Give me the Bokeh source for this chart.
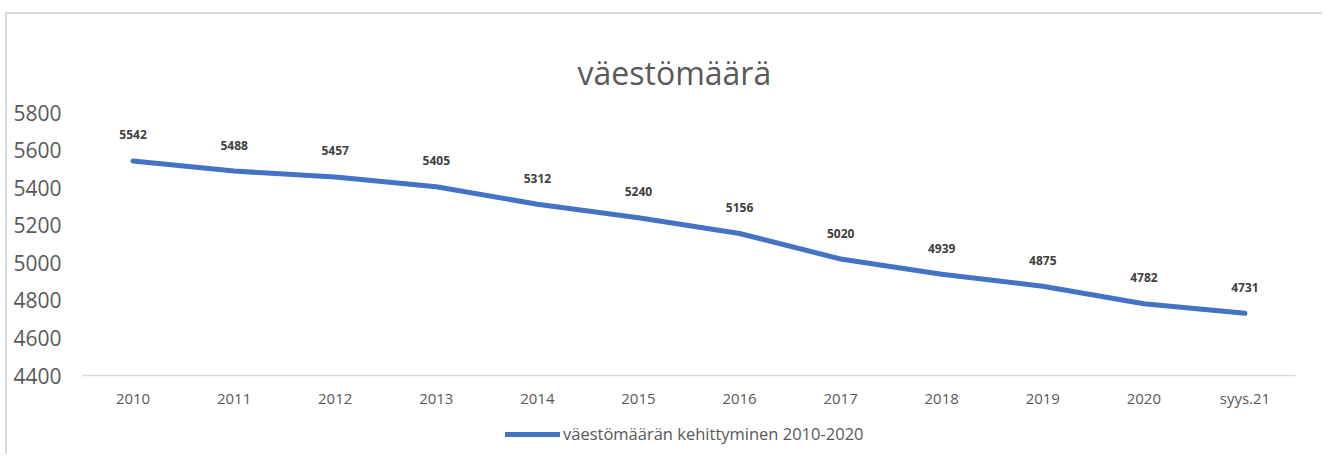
from bokeh.plotting import figure
from bokeh.models import Range1d, Legend, LegendItem, ColumnDataSource
from bokeh.layouts import column
from bokeh.core.properties import value
from bokeh.embed import file_html
from bokeh.resources import INLINE

categories = ["2010", "2011", "2012", "2013", "2014", "2015", "2016", "2017", "2018", "2019", "2020", "syys.21"]
population = [5542, 5488, 5457, 5405, 5312, 5240, 5156, 5020, 4939, 4875, 4782, 4731]
y_ticks = [4400, 4600, 4800, 5000, 5200, 5400, 5600, 5800]
title_text = "väestömäärä"
series_name = "väestömäärän kehittyminen 2010-2020"

FONT = "Open Sans"
GREY = "#595959"
BLUE = "#4472C4"

src = ColumnDataSource(dict(x=categories, y=population, lbl=[str(v) for v in population]))

p = figure(frame_width=1213, frame_height=263, x_range=categories, y_range=Range1d(4400, 5800),
           output_backend="svg", toolbar_location=None,
           min_border_left=75, min_border_right=29, min_border_top=98, min_border_bottom=36)
p.outline_line_color = None
p.xgrid.grid_line_color = None
p.ygrid.grid_line_color = None
p.background_fill_color = "white"
p.border_fill_color = "white"

p.title.text = title_text
p.title.align = "left"
p.title.offset = 495
p.title.text_font = FONT
p.title.text_font_size = "32px"
p.title.text_font_style = "normal"
p.title.text_color = GREY
p.title.standoff = 38

p.yaxis.ticker = y_ticks
p.yaxis.axis_line_color = None
p.yaxis.major_tick_line_color = None
p.yaxis.minor_tick_line_color = None
p.yaxis.major_label_standoff = 15
p.yaxis.major_label_text_font = FONT
p.yaxis.major_label_text_font_size = "21px"
p.yaxis.major_label_text_color = GREY

p.xaxis.axis_line_color = "#d9d9d9"
p.xaxis.axis_line_width = 1.5
p.xaxis.major_tick_line_color = None
p.xaxis.minor_tick_line_color = None
p.xaxis.major_label_standoff = 6
p.xaxis.major_label_text_font = FONT
p.xaxis.major_label_text_font_size = "15px"
p.xaxis.major_label_text_color = GREY

p.line("x", "y", source=src, line_color=BLUE, line_width=5, line_cap="round", line_join="round")

p.text("x", "y", text="lbl", source=src, y_offset=-26, text_align="center", text_baseline="middle",
       text_font=value(FONT), text_font_size="12px", text_font_style="bold", text_color="#404040")

# legend strip below the chart (its frame is aligned with the main frame by the column)
p2 = figure(width=1317, height=45, x_range=Range1d(0, 1), y_range=Range1d(0, 1),
            output_backend="svg", toolbar_location=None,
            min_border_left=0, min_border_right=0, min_border_top=0, min_border_bottom=0)
p2.axis.visible = False
p2.grid.visible = False
p2.outline_line_color = None
p2.background_fill_color = "white"
p2.border_fill_color = "white"
lr = p2.line(x=[-5, -4], y=[-5, -4], line_color=BLUE, line_width=5, line_cap="round")
legend = Legend(items=[LegendItem(label=series_name, renderers=[lr])], location=(423, 11),
                orientation="horizontal", border_line_color=None, background_fill_alpha=0,
                glyph_width=55, glyph_height=20, label_standoff=3, padding=0, margin=0,
                label_text_font=FONT, label_text_font_size="16.5px", label_text_color=GREY)
p2.add_layout(legend, "center")

layout = column(p, p2, spacing=0,
                styles={"box-shadow": "-2px -2px 0 0 #d9d9d9", "background-color": "white",
                        "margin-top": "14px", "margin-left": "7px"})

open("out.html", "w").write(file_html(layout, INLINE))
